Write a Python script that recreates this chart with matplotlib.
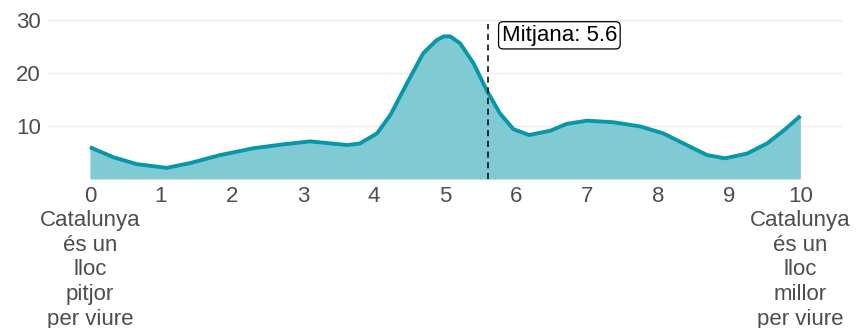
import matplotlib.pyplot as plt

plt.rcParams["font.family"] = ["Liberation Sans", "DejaVu Sans"]

# values (density-style curve, 0..10 scale)
score = [0.0, 0.33, 0.66, 1.08, 1.41, 1.83, 2.30, 2.70, 3.10, 3.62, 3.80,
         4.04, 4.23, 4.46, 4.69, 4.88, 4.98, 5.07, 5.21, 5.40, 5.59, 5.77,
         5.96, 6.18, 6.48, 6.71, 7.00, 7.37, 7.75, 8.07, 8.40, 8.69, 8.94,
         9.25, 9.53, 9.77, 10.0]
share = [6.0, 4.1, 2.8, 2.1, 3.0, 4.5, 5.8, 6.5, 7.1, 6.4, 6.7,
         8.6, 12.1, 18.0, 23.7, 26.2, 26.9, 26.9, 25.6, 21.8, 16.6, 12.4,
         9.4, 8.3, 9.1, 10.4, 11.0, 10.7, 9.9, 8.6, 6.4, 4.5, 3.9,
         4.8, 6.7, 9.2, 11.9]
mean_score = 5.6

xticks = list(range(11))
xlabels = [str(t) for t in xticks]
xlabels[0] = "0\nCatalunya\nés un\nlloc\npitjor\nper viure"
xlabels[10] = "10\nCatalunya\nés un\nlloc\nmillor\nper viure"
yticks = [10, 20, 30]

LINE = "#0897a8"
FILL = "#80cad3"
GREY = "#4d4d4d"
FONTSIZE = 16

fig = plt.figure(figsize=(8.59, 3.28), dpi=100)
ax = fig.add_axes([0.0559, 0.4543, 0.9255, 0.501])

ax.fill_between(score, share, 0, color=FILL, lw=0, zorder=2)
ax.plot(score, share, color=LINE, lw=2.8, zorder=3,
        solid_capstyle="butt", solid_joinstyle="round")

ax.vlines(mean_score, 0, 29.2, colors="black", linestyles=(0, (4, 3)), lw=1.1, zorder=4)
ax.annotate(f"Mitjana: {mean_score}", xy=(mean_score, 27.1), xytext=(10, 0),
            textcoords="offset points", ha="left", va="center",
            fontsize=FONTSIZE, color="black", zorder=5,
            bbox=dict(boxstyle="round,pad=0.14,rounding_size=0.2",
                      fc="white", ec="black", lw=0.9))

ax.set_xlim(-0.59, 10.6)
ax.set_ylim(0, 31)
ax.set_xticks(xticks)
ax.set_xticklabels(xlabels, fontsize=FONTSIZE, color=GREY, linespacing=1.22)
ax.set_yticks(yticks)
ax.set_yticklabels([str(t) for t in yticks], fontsize=FONTSIZE, color=GREY)
ax.tick_params(length=0, pad=5)
ax.grid(axis="y", color="#ebebeb", lw=1.0, zorder=0)
ax.set_axisbelow(True)
for s in ax.spines.values():
    s.set_visible(False)

fig.savefig("out.png", dpi=100)
